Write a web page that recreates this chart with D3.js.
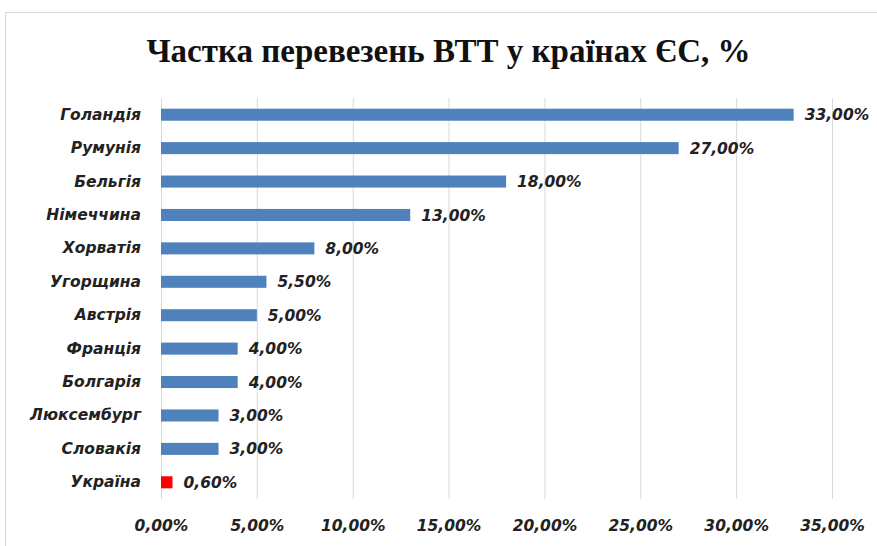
<!DOCTYPE html>
<html>
<head>
<meta charset="utf-8">
<script src="https://cdn.jsdelivr.net/npm/d3@7"></script>
<style>
  html, body { margin: 0; padding: 0; background: #fff; }
  svg { display: block; }
</style>
</head>
<body>
<svg id="chart" width="877" height="546"></svg>
<script>
// Share of large-tonnage cargo transport in EU countries, %
const countries = ["Голандія", "Румунія", "Бельгія", "Німеччина", "Хорватія", "Угорщина",
                   "Австрія", "Франція", "Болгарія", "Люксембург", "Словакія", "Україна"];
const shares = [33.0, 27.0, 18.0, 13.0, 8.0, 5.5, 5.0, 4.0, 4.0, 3.0, 3.0, 0.6];
const highlighted = ["Україна"];
const xTicks = [0, 5, 10, 15, 20, 25, 30, 35];

const svg = d3.select("#chart");
const W = 877, H = 546;
const labelFont = "'DejaVu Sans', sans-serif";
const labelSize = 15.5;

// chart frame
svg.append("rect")
  .attr("x", 5.5).attr("y", 12.5)
  .attr("width", W + 10).attr("height", H + 10)
  .attr("fill", "#fff").attr("stroke", "#d9d9d9").attr("stroke-width", 1);

const plot = { left: 161, right: 832, top: 98, bottom: 499 };

const x = d3.scaleLinear().domain([0, 35]).range([plot.left, plot.right]);
const y = d3.scaleBand().domain(countries).range([plot.top, plot.bottom]).paddingInner(0.64).paddingOuter(0.32);

// title
svg.append("text")
  .attr("x", 448.5).attr("y", 62)
  .attr("text-anchor", "middle")
  .attr("font-family", "'Liberation Serif', 'Times New Roman', serif")
  .attr("font-weight", "bold")
  .attr("font-size", 33)
  .attr("fill", "#111")
  .text("Частка перевезень ВТТ у країнах ЄС, %");

// vertical gridlines
svg.append("g").selectAll("line").data(xTicks).join("line")
  .attr("x1", d => x(d) + 0.5).attr("x2", d => x(d) + 0.5)
  .attr("y1", plot.top).attr("y2", plot.bottom)
  .attr("stroke", "#d9d9d9").attr("stroke-width", 1);

const styleLabels = sel => sel
  .attr("font-family", labelFont).attr("font-style", "italic").attr("font-weight", "bold")
  .attr("font-size", labelSize).attr("fill", "#222");

// x axis tick labels
const fmt = d => d3.format(".2f")(d).replace(".", ",") + "%";
const xAxis = d3.axisBottom(x).tickValues(xTicks).tickFormat(fmt).tickSize(0).tickPadding(0);
const gx = svg.append("g").attr("transform", `translate(0, ${plot.bottom + 21})`).call(xAxis);
gx.select(".domain").remove();
gx.selectAll("text").call(styleLabels);

// y axis category labels
const yAxis = d3.axisLeft(y).tickSize(0).tickPadding(20);
const gy = svg.append("g").attr("transform", `translate(${plot.left}, 0)`).call(yAxis);
gy.select(".domain").remove();
gy.selectAll("text").call(styleLabels);

const rows = countries.map((c, i) => ({ c, v: shares[i] }));

// bars
svg.append("g").selectAll("rect").data(rows).join("rect")
  .attr("x", x(0))
  .attr("y", d => y(d.c))
  .attr("width", d => x(d.v) - x(0))
  .attr("height", y.bandwidth())
  .attr("fill", d => highlighted.includes(d.c) ? "#ff0000" : "#4f81bd");

// value labels
svg.append("g").selectAll("text").data(rows).join("text")
  .attr("x", d => x(d.v) + 11)
  .attr("y", d => y(d.c) + y.bandwidth() / 2)
  .attr("dy", "0.36em")
  .call(styleLabels)
  .text(d => fmt(d.v));
</script>
</body>
</html>
